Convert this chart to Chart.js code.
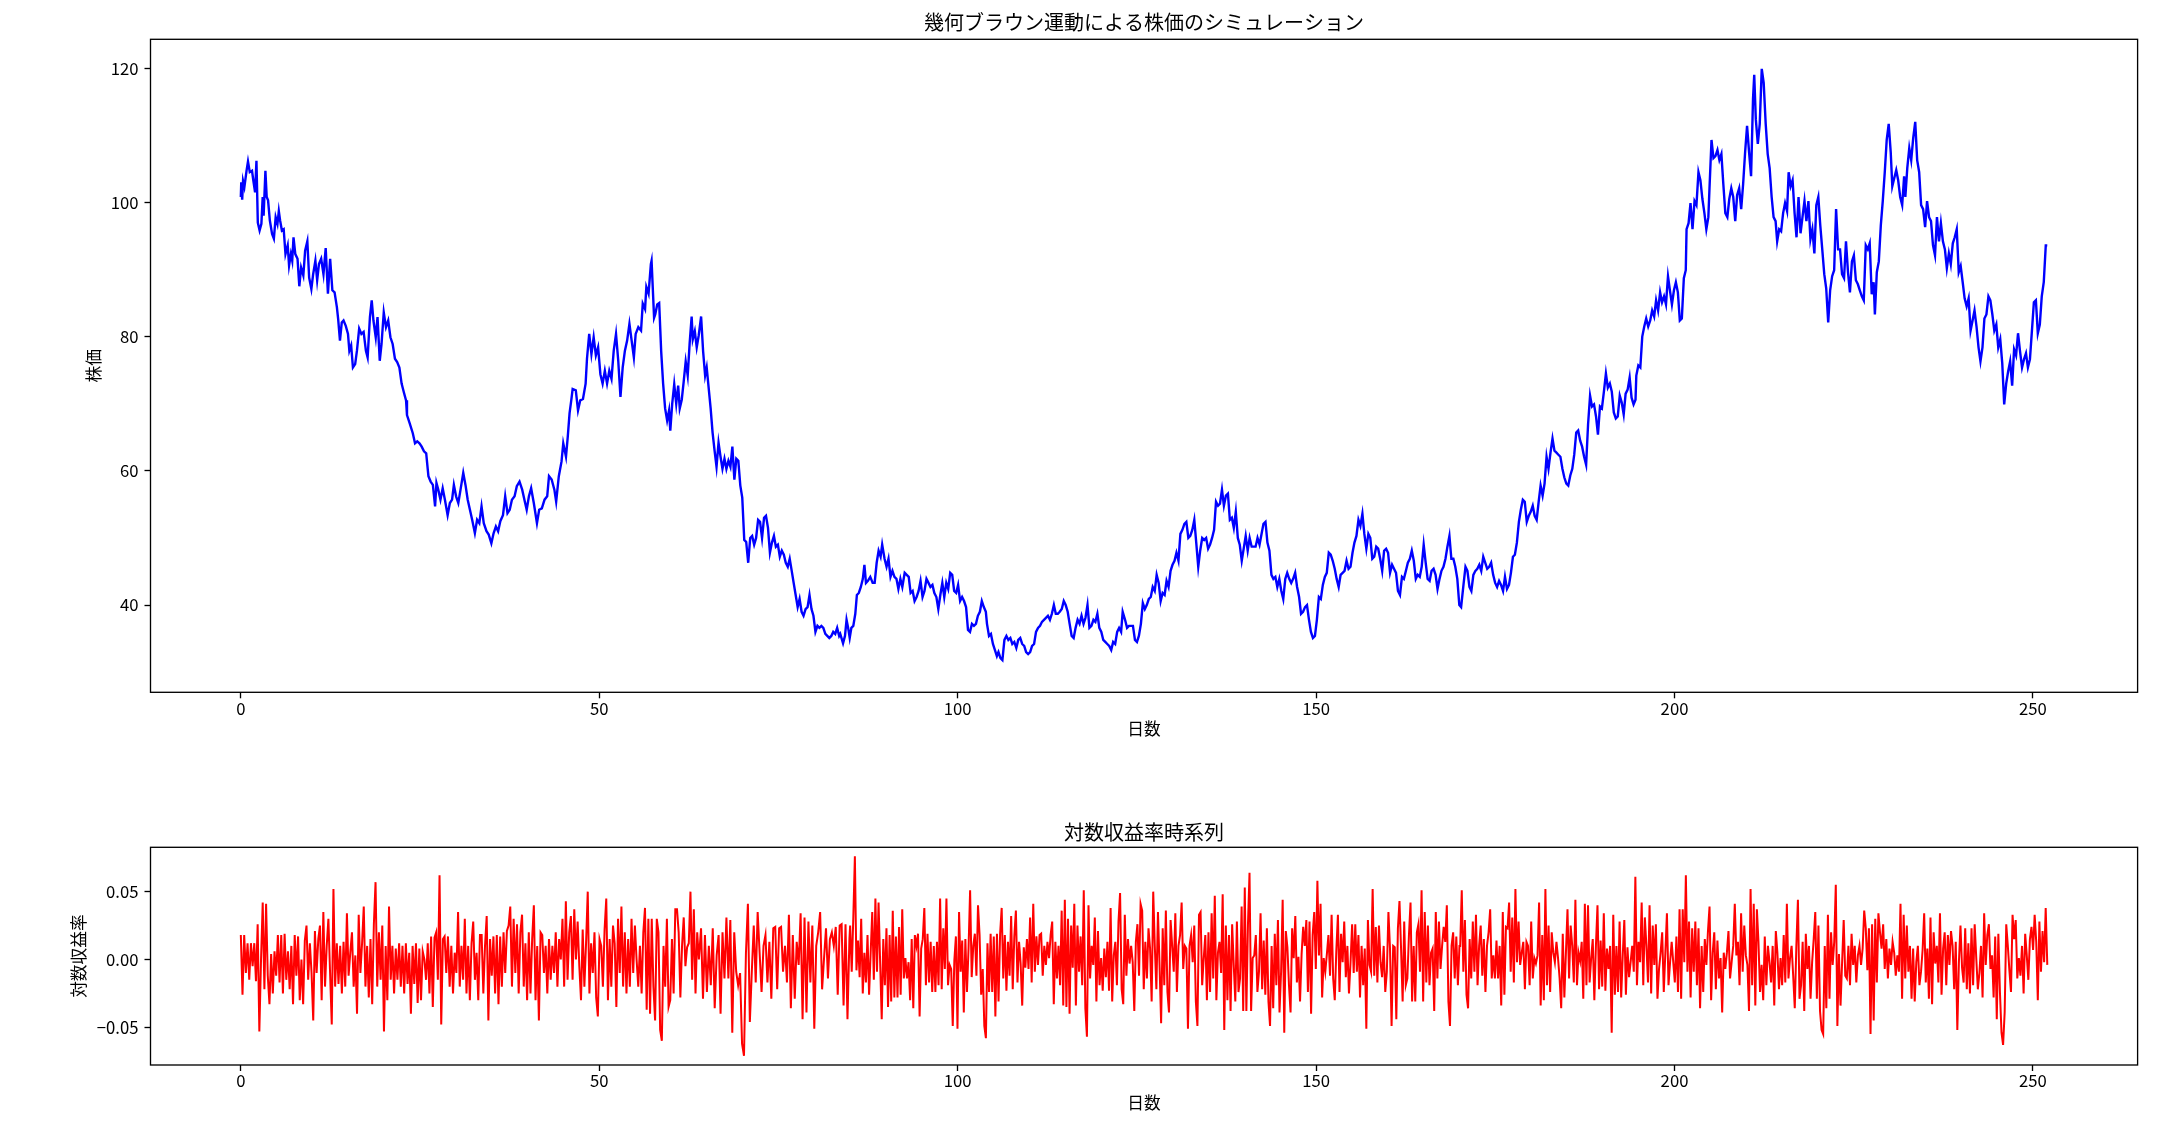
<!DOCTYPE html>
<html>
<head>
<meta charset="utf-8">
<script src="https://cdn.jsdelivr.net/npm/chart.js@4.4.0/dist/chart.umd.min.js"></script>
<style>
  body { margin: 0; background: #fff; }
  #wrap { position: relative; width: 2170px; height: 1131px; }
  canvas { position: absolute; left: 0; }
</style>
</head>
<body>
<div id="wrap">
  <canvas id="priceChart" width="2170" height="760" style="top:0"></canvas>
  <canvas id="returnChart" width="2170" height="341" style="top:790px"></canvas>
</div>
<script>
// 株価パス（日数, 株価）
const priceDays = [
  0,0.06,0.19,0.31,0.5,0.81,1,1.25,1.56,1.74,
  1.99,2.18,2.37,2.62,2.87,3.05,3.18,3.43,3.61,3.8,
  4.05,4.36,4.61,4.86,5.11,5.3,5.48,5.73,5.98,6.23,
  6.54,6.73,6.98,7.17,7.35,7.6,7.91,8.16,8.41,8.72,
  8.97,9.28,9.53,9.84,10.09,10.4,10.65,10.9,11.21,11.53,
  11.84,12.15,12.46,12.77,13.08,13.4,13.58,13.83,14.08,14.33,
  14.64,14.95,15.14,15.39,15.64,15.95,16.2,16.51,16.82,17.13,
  17.45,17.69,18.01,18.26,18.5,18.82,19.07,19.38,19.63,19.94,
  20.25,20.56,20.87,21.18,21.5,21.81,22.12,22.43,22.74,23.05,
  23.18,23.55,23.99,24.3,24.61,24.92,25.23,25.55,25.86,26.17,
  26.48,26.79,27.1,27.29,27.54,27.85,28.16,28.47,28.85,29.16,
  29.47,29.72,30.03,30.34,30.65,31.03,31.34,31.65,31.96,32.27,
  32.65,32.96,33.27,33.58,33.89,34.27,34.58,34.95,35.26,35.58,
  35.89,36.2,36.57,36.88,37.2,37.51,37.82,38.19,38.5,38.88,
  39.25,39.56,39.88,40.19,40.5,40.87,41.31,41.62,41.99,42.37,
  42.74,42.99,43.36,43.74,43.99,44.36,44.74,44.98,45.36,45.61,
  45.86,46.11,46.29,46.73,47.04,47.35,47.73,48.1,48.29,48.6,
  48.91,49.22,49.53,49.84,50.16,50.47,50.78,51.09,51.4,51.71,
  52.02,52.34,52.65,52.96,53.27,53.58,53.89,54.21,54.52,54.83,
  55.08,55.45,55.83,56.07,56.39,56.57,56.88,57.2,57.3,57.65,
  57.81,58.09,58.36,58.64,58.91,59.19,59.47,59.74,59.91,60.18,
  60.46,60.74,61.01,61.23,61.51,61.78,62.06,62.34,62.61,62.89,
  63.05,63.33,63.6,63.88,64.21,64.49,64.77,64.99,65.26,65.54,
  65.81,66.09,66.36,66.64,66.92,67.19,67.47,67.74,68.02,68.3,
  68.57,68.85,69.12,69.4,69.68,69.95,70.23,70.5,70.78,71.06,
  71.33,71.61,71.88,72.16,72.43,72.71,72.99,73.26,73.54,73.81,
  74.09,74.37,74.64,74.92,75.19,75.47,75.75,76.02,76.3,76.57,
  76.85,77.12,77.4,77.68,77.95,78.23,78.5,78.78,79.06,79.33,
  79.61,79.88,80.16,80.44,80.71,80.99,81.26,81.54,81.81,82.09,
  82.37,82.64,82.92,83.19,83.47,83.62,84.01,84.28,84.5,84.72,
  84.94,85.17,85.44,85.72,85.94,86.21,86.49,86.77,86.99,87.21,
  87.48,87.81,88.14,88.42,88.7,88.97,89.25,89.47,89.8,90.08,
  90.35,90.63,90.9,91.18,91.46,91.73,92.01,92.28,92.61,92.89,
  93.17,93.44,93.72,93.99,94.27,94.55,94.82,95.1,95.37,95.65,
  95.93,96.2,96.48,96.75,97.03,97.3,97.58,97.86,98.13,98.41,
  98.68,98.96,99.24,99.51,99.79,100.06,100.34,100.62,100.89,101.17,
  101.44,101.72,101.99,102.27,102.55,102.82,103.1,103.37,103.65,103.93,
  104.09,104.37,104.64,104.92,105.2,105.47,105.69,105.97,106.24,106.52,
  106.8,107.07,107.35,107.62,107.9,108.18,108.45,108.73,109,109.28,
  109.55,109.83,110.11,110.38,110.66,110.93,111.21,111.49,111.76,112.04,
  112.31,112.59,112.87,113.14,113.42,113.69,113.97,114.24,114.52,114.8,
  115.07,115.35,115.62,115.9,116.18,116.45,116.73,117,117.28,117.56,
  117.83,118.11,118.38,118.66,118.94,119.21,119.49,119.76,120.04,120.31,
  120.59,120.87,121.14,121.42,121.69,121.97,122.25,122.52,122.8,123.02,
  123.35,123.63,123.9,124.18,124.45,124.73,125.01,125.28,125.56,125.83,
  126.11,126.38,126.66,126.94,127.21,127.49,127.76,128.04,128.32,128.59,
  128.87,129.14,129.42,129.7,129.97,130.25,130.52,130.8,131.07,131.35,
  131.63,131.9,132.18,132.45,132.73,133.01,133.28,133.56,133.83,134.11,
  134.39,134.66,134.94,135.21,135.49,135.77,136.04,136.32,136.59,136.87,
  137.14,137.42,137.7,137.97,138.25,138.52,138.8,139.08,139.35,139.63,
  139.9,140.18,140.46,140.73,141.01,141.28,141.56,141.83,142.11,142.39,
  142.66,142.94,143.21,143.49,143.77,144.04,144.32,144.59,144.87,145.15,
  145.42,145.7,145.97,146.25,146.53,146.8,147.08,147.35,147.63,147.9,
  148.18,148.46,148.73,149.01,149.28,149.56,149.84,150.11,150.39,150.66,
  150.94,151.22,151.49,151.77,152.04,152.32,152.6,152.87,153.15,153.42,
  153.7,153.97,154.25,154.53,154.8,155.08,155.35,155.63,155.91,156.18,
  156.46,156.73,157.01,157.29,157.56,157.84,158.11,158.39,158.66,158.94,
  159.22,159.49,159.77,160.04,160.32,160.6,160.87,161.15,161.42,161.7,
  161.98,162.25,162.53,162.8,163.08,163.35,163.63,163.91,164.18,164.46,
  164.73,165.01,165.29,165.56,165.84,166.11,166.39,166.67,166.94,167.22,
  167.49,167.77,168.05,168.32,168.6,168.87,169.15,169.42,169.7,169.98,
  170.23,170.56,170.84,171.11,171.39,171.66,171.94,172.22,172.49,172.77,
  173.04,173.32,173.6,173.87,174.15,174.42,174.7,174.98,175.25,175.53,
  175.8,176.08,176.35,176.63,176.91,177.18,177.46,177.73,178.01,178.29,
  178.56,178.84,179.11,179.39,179.67,179.94,180.22,180.49,180.77,181.05,
  181.32,181.6,181.87,182.15,182.42,182.7,182.98,183.25,183.53,183.8,
  184.08,184.36,184.63,184.91,185.18,185.46,185.74,186.01,186.29,186.56,
  186.84,187.11,187.39,187.67,187.94,188.22,188.49,188.77,189.05,189.32,
  189.6,189.87,190.15,190.43,190.7,190.98,191.25,191.53,191.81,192.08,
  192.36,192.63,192.91,193.18,193.46,193.74,194.01,194.29,194.56,194.67,
  194.95,195.23,195.5,195.78,196.05,196.33,196.61,196.88,197.16,197.43,
  197.71,197.99,198.26,198.54,198.81,199.09,199.36,199.64,199.92,200.19,
  200.47,200.74,201.02,201.3,201.57,201.68,201.96,202.23,202.51,202.79,
  203.06,203.34,203.61,203.89,204.17,204.44,204.72,204.88,205.16,205.43,
  205.71,205.99,206.26,206.54,206.81,207.09,207.37,207.64,207.92,208.19,
  208.47,208.74,209.02,209.3,209.57,209.85,210.12,210.4,210.68,210.95,
  211.12,211.34,211.62,211.89,212.17,212.44,212.72,213,213.27,213.55,
  213.82,214.1,214.32,214.6,214.87,215.15,215.42,215.7,215.92,216.2,
  216.47,216.75,217.02,217.3,217.58,217.85,218.13,218.4,218.68,218.96,
  219.23,219.51,219.78,220.06,220.33,220.61,220.89,221.16,221.44,221.71,
  221.99,222.27,222.54,222.82,223.09,223.37,223.65,223.92,224.2,224.47,
  224.75,225.02,225.3,225.58,225.85,226.13,226.4,226.68,226.96,227.23,
  227.51,227.78,227.95,228.22,228.5,228.78,229.05,229.33,229.6,229.88,
  230.16,230.38,230.65,230.93,231.2,231.48,231.76,232.03,232.2,232.47,
  232.75,233.02,233.3,233.58,233.85,234.13,234.4,234.68,234.96,235.23,
  235.51,235.78,236.06,236.34,236.61,236.89,237.16,237.44,237.72,237.99,
  238.27,238.54,238.82,239.09,239.37,239.65,239.92,240.2,240.47,240.75,
  241.03,241.3,241.58,241.85,242.13,242.41,242.68,242.96,243.23,243.51,
  243.79,244.06,244.34,244.61,244.89,245.16,245.44,245.72,245.99,246.27,
  246.54,246.82,247.1,247.37,247.65,247.92,248.2,248.48,248.75,249.03,
  249.3,249.58,249.86,250.13,250.41,250.68,250.96,251.23,251.51,251.79,
  252
];
const prices = [
  100.8,103,100.4,103.2,102.3,104.8,106.1,104.5,104.7,103.3,
  101.5,106.2,97,95.8,96.8,100.8,98,104.7,100.8,100.3,
  97.3,95.3,94.6,97.8,96.8,98.7,97.3,95.8,96,92.3,
  93.6,90.6,92.3,91.3,94.8,92.3,91.6,87.5,90.3,89.1,
  92.8,94.2,88.8,87.1,89.3,91.3,88.4,90.8,91.6,89.3,
  93.2,86.4,91.6,86.9,86.6,84.4,82.6,79.4,82.1,82.4,
  81.6,80.4,77.9,78.7,75.4,75.9,77.9,81.2,80.4,80.7,
  77.9,76.9,82.9,85.4,82.4,79.9,82.9,76.4,78.9,83.6,
  81.4,82.4,79.9,78.9,76.7,76.2,75.4,73,71.7,70.5,
  68.3,67.1,65.6,64.1,64.4,64.1,63.6,62.9,62.6,59.2,
  58.4,57.9,54.7,58.2,57.2,55.7,57.4,55.7,53.4,55.2,
  55.7,57.9,56.2,55.2,57.2,59.7,57.9,55.7,54.2,52.7,
  50.7,52.7,52.2,54.7,52.2,51,50.5,49.2,50.7,51.7,
  51,52.5,53.4,56.2,53.7,54.2,55.7,56.2,57.7,58.4,
  57.2,55.7,54.2,56.2,57.4,55.2,52.2,54.2,54.4,55.7,
  56.2,59.2,58.7,57.2,55.4,59.2,61.4,64.1,62.1,65.1,
  68.6,70.6,72.2,72,69,70.5,70.7,73,76.7,80.4,
  77.4,79.9,77.2,78.4,74.4,73,74.9,73,74.9,73.7,
  77.9,80.4,76.4,71,75.4,77.9,79.4,81.9,79.4,76.9,
  80.4,81.4,80.9,84.9,84.1,87.4,86.4,90.8,91.3,82.8,
  83.3,84.8,85,77.8,73,69.3,67.5,69,66,70,
  72.9,70,72.7,69.3,70.6,73.3,76.3,74.2,79,83,
  79.6,80.8,78.4,80.2,83,77.8,74.2,75.4,72.4,69.3,
  65.7,63,60.6,64.2,62.1,60.3,61.8,60.3,61.5,60.6,
  63.6,58.7,61.8,61.5,57.8,56,49.7,49.4,46.3,50,
  50.3,49,50,52.7,52.4,50,53,53.3,51.5,47.8,
  49.3,50.3,48.7,49,47.2,48.1,47.5,46.3,45.7,46.9,
  45.1,43.3,41.5,39.7,40.9,39,38.4,39.4,39.7,41.5,
  39.4,38.4,36,36.9,36.6,36.9,36.6,35.7,35.4,35.1,
  35.4,36,35.7,36.6,35.4,35.7,34.3,35.4,37.8,36.6,
  35.1,36.6,36.9,38.7,41.5,41.8,42.7,43.9,46,43.3,
  43.6,44.2,43.3,43.3,46.3,48.1,47.2,49,46.9,45.7,
  46.9,44.2,45.1,44.2,43.9,42.4,43.9,42.7,44.8,44.5,
  44.2,41.8,42.1,40.6,41.2,42.1,43.6,41.2,42.1,43.9,
  43.3,42.7,43,41.8,41.2,39.4,41.5,43.3,41.2,43.3,
  42.4,44.8,44.5,42.1,41.8,43,40.6,41.2,40.6,39.7,
  36.3,36,37.2,36.9,37.2,38.4,39,40.6,39.7,39,
  37.2,35.4,35.7,34.2,33.3,32.4,33,32.1,31.8,34.8,
  35.4,34.8,35.1,34.2,34.5,33.6,34.8,35.1,34.2,33.9,
  33,32.7,33,33.9,34.2,36,36.6,36.9,37.5,37.8,
  38.1,38.4,37.8,38.7,40,38.7,38.7,39,39.4,40.6,
  40,39,37.2,35.4,35.1,36.6,37.8,37.2,38.4,37.2,
  38.1,40,36.6,36.9,37.8,37.5,38.7,36.6,36,34.8,
  34.5,34.2,33.9,33.3,34.5,34.2,36,36.6,36,39,
  37.8,36.6,36.9,36.9,36.9,34.8,34.5,35.4,37.2,40.3,
  39.4,40,40.9,41.2,42.7,42.1,44.5,43.3,40.6,41.8,
  41.5,43.6,42.7,45.1,46,46.6,47.8,46.6,50.6,51.2,
  52.1,52.4,50,50.3,51.2,52.7,49.3,45.7,48.1,50,
  49.7,50,48.4,49,50,51.2,55.4,54.8,55.1,57.2,
  54.8,56.3,56.6,52.7,53,51.5,53.9,50,49,46.6,
  48.4,50.3,48.1,50,48.7,48.7,48.7,50,49,50.6,
  52.1,52.4,49.3,48.1,44.5,43.9,44.2,42.7,43.9,42.1,
  40.9,43.9,44.8,43.9,43.3,43.9,44.8,42.7,41.2,38.7,
  39,39.7,40,37.8,36,35.1,35.4,37.8,41.2,40.9,
  43,44.2,44.8,47.8,47.5,46.6,45.4,43.9,42.7,44.5,
  44.8,45.1,46.6,45.4,45.7,47.8,49.3,50.3,52.7,51.8,
  53.6,50.6,48.4,50.6,50,46.9,47.2,48.7,48.4,46.9,
  45.1,48.1,48.4,47.8,44.8,46,45.4,44.8,42.1,41.5,
  44.2,43.9,45.1,46.3,46.9,48.1,46.6,43.9,44.5,44.2,
  45.7,49,46.3,43.9,43.6,45.1,45.4,44.5,42.4,43.9,
  45.1,45.7,46.9,48.7,50.3,46.9,46.9,45.7,43.9,40,
  39.7,43,45.7,45.1,42.7,42.1,44.5,45.1,45.4,46,
  45.1,47.2,46.3,45.4,45.7,46.3,44.5,43.3,42.7,43.6,
  43,42.1,44.2,42.4,43,44.8,47.2,47.5,49.3,52.4,
  54.2,55.7,55.4,52.4,53.3,53.9,54.8,53.3,52.7,55.4,
  57.8,56.3,58.1,62.1,60.3,62.7,64.8,63,62.7,62.4,
  62.1,60.3,59,58.1,57.8,59.3,60.3,62.4,65.7,66,
  64.5,63.6,62.1,60.9,66.9,71.2,69.6,69.9,68.1,65.4,
  69.6,69.3,71.8,74.5,72.4,73,71.8,68.7,67.8,68.1,
  71.2,70.2,68.4,71.5,72.1,73.9,70.9,69.9,70.6,74.2,
  75.7,75.4,80,81.5,82.7,81.5,82.4,83.9,83,85.4,
  83.9,86.6,85.1,86,84.8,89,86.9,84.8,86.9,88.1,
  86.6,82.4,82.7,88.7,89.9,96,96.9,99.9,96,100.2,
  99.6,104.5,103.3,100.5,98.4,96,97.8,102.1,109.3,106.6,
  106.9,107.8,106.3,107.2,102.7,98.4,97.8,100.5,102.1,100.8,
  97.2,101.1,102.1,99,102.7,107.5,111.4,107.5,103.9,115.4,
  119,112.4,108.7,111.7,119.9,117.8,111.7,107.2,105.1,100.8,
  97.8,97.2,94.2,96,95.7,98.4,99.9,98.7,104.5,102.4,
  103.3,98.4,94.8,100.8,95.4,97.8,100.2,97.2,100.2,94.5,
  96,92.4,99.6,100.8,96.6,93,89.3,87.2,82.1,86.9,
  89,89.9,99,93,93,89.3,88.7,94.2,89.6,86.6,
  91.2,92.1,88.4,87.8,86.9,86,85.4,93.6,93,93.9,
  86.3,88.1,83.3,89.6,91.2,96.6,100.2,104.5,109.3,111.7,
  107.5,102.4,103.6,104.8,103.3,100.8,99.6,103.9,100.8,105.1,
  108.1,106.3,109.6,112,106.3,104.5,99.6,99,96.3,100.2,
  97.8,97.2,93.6,92.1,97.8,94.2,96.9,94.2,93,90.2,
  92.4,90.8,93.9,94.8,96,89.6,90.5,88.1,85.7,84.5,
  85.7,80.9,82.4,83.9,81.5,78.4,76.3,78.4,82.7,83.3,
  86,85.4,83.3,80.9,81.8,78.4,79.6,76,69.9,73,
  74.8,76.3,72.7,78.1,77.2,80.5,77.8,75.4,76.6,77.5,
  75.4,76.6,80.9,85.1,85.4,80.5,81.8,86,88.1,93.6,
  93.6
];

// 対数収益率（区間ごとに読み取り、区間内は等間隔）
const returnSpans = [[0, 63.9], [64.2, 84.9], [85.0, 170.0], [170.1, 252.0]];
const returnsA = [
  0.018,-0.026,0.018,-0.010,0.012,-0.015,0.012,-0.005,0.012,-0.016,
  0.026,-0.053,0.000,0.042,-0.022,0.041,-0.012,-0.033,0.004,-0.025,
  0.006,-0.012,0.018,-0.017,0.018,-0.025,0.019,-0.015,0.006,-0.022,
  0.010,-0.033,0.018,-0.012,0.017,-0.030,0.000,-0.033,0.014,0.025,
  -0.015,0.012,-0.010,-0.045,0.021,-0.010,0.015,0.025,-0.030,0.035,
  -0.020,0.010,0.030,-0.010,-0.048,0.052,-0.020,0.012,-0.018,0.010,
  -0.025,0.013,-0.020,0.034,-0.012,0.005,0.020,-0.020,0.003,-0.040,
  0.033,-0.010,0.012,0.039,-0.020,0.010,-0.028,0.015,-0.033,0.026,
  0.057,-0.020,0.020,-0.015,0.025,-0.053,0.010,-0.030,0.039,-0.015,
  0.010,-0.025,0.008,-0.015,0.012,-0.020,0.010,-0.025,0.012,-0.018,
  0.005,-0.040,0.010,-0.018,0.012,-0.032,0.008,-0.030,0.006,0.000,
  -0.015,0.012,-0.025,0.017,-0.035,0.016,0.020,-0.015,0.062,-0.048,
  0.015,0.017,-0.010,0.017,-0.020,0.010,-0.025,0.005,-0.010,0.035,
  -0.020,0.010,-0.015,0.030,-0.025,0.010,-0.030,0.012,0.028,-0.015,
  0.005,-0.030,0.018,0.018,-0.025,0.010,0.032,-0.045,0.015,-0.012,
  0.017,-0.025,0.018,-0.033,0.017,-0.020,0.020,-0.010,0.021,0.025,
  0.039,-0.020,0.030,-0.010,0.026,-0.025,0.020,0.033,-0.020,0.012,
  -0.030,0.020,-0.025,0.015,0.040,-0.030,0.010,-0.045,0.020,0.018,
  -0.010,0.010,-0.025,0.015,-0.015,0.010,-0.010,0.020,-0.020,0.015,
  0.000,0.030,-0.020,0.043,-0.015,0.020,0.032,-0.015,0.037,0.000,
  0.028,-0.005,-0.030,0.022,-0.020,0.012,0.050,-0.025,0.012,-0.010,
  0.020,-0.028,-0.042,0.015,0.010,-0.020,0.022,0.045,-0.030,0.015,
  -0.020,0.025,0.012,-0.035,0.030,-0.010,0.039,-0.020,0.020,-0.025,
  0.015,-0.020,0.030,-0.010,0.025,0.000,-0.020,0.010,-0.025,0.020,
  0.038,-0.037,0.030,-0.040,0.030,-0.020,-0.045,0.030,0.020,-0.052,
  -0.060,0.010,-0.020,0.030,-0.035,-0.030,0.015,-0.025,0.037,0.037,
  0.020,-0.028,0.010,0.031,-0.005,0.009,0.012,0.050,-0.015,0.037,
  -0.025,0.020,0.000
];
const returnsB = [
  0.023,-0.029,0.018,-0.024,0.010,-0.019,0.023,-0.036,0.003,0.018,
  -0.040,0.020,-0.014,0.031,-0.014,0.029,-0.054,0.020,-0.009,-0.019,
  -0.010,-0.062,-0.071,0.005,0.041,-0.046,-0.009,0.025,-0.017,0.035,
  0.005,-0.024,0.010,0.018,-0.017,0.013,-0.029,0.023,0.024,-0.022,
  0.023,0.024,-0.009,0.010,-0.017,0.033,-0.036,0.018,-0.029,0.013,
  -0.004,0.034,-0.044,0.031,-0.039,0.028,-0.017,0.025,-0.051,0.010,
  0.020,0.035,-0.022,0.001,0.023,-0.014,0.015,0.020,0.010,0.024,
  -0.026,0.025,0.026,-0.034,0.026,-0.044,0.015
];
const returnsC = [
  0.025,-0.009,0.031,0.076,-0.008,0.014,-0.013,0.030,-0.025,0.005,
  -0.017,0.018,-0.026,0.005,0.035,-0.015,0.045,-0.009,0.042,-0.002,
  -0.044,0.015,-0.019,0.023,-0.035,0.018,-0.031,0.036,-0.028,0.017,
  -0.028,0.024,-0.026,0.037,-0.014,0.001,-0.014,-0.002,-0.030,0.015,
  -0.036,0.018,0.010,0.019,-0.042,0.008,0.015,0.038,-0.019,0.019,
  -0.017,0.013,-0.024,0.010,-0.024,0.013,-0.019,0.045,-0.022,0.023,
  -0.007,0.045,-0.019,-0.004,-0.007,-0.049,-0.001,0.017,-0.051,0.035,
  -0.009,0.014,-0.039,0.015,-0.024,0.008,0.051,-0.013,0.010,0.019,
  -0.012,0.040,0.018,-0.026,-0.007,-0.049,-0.058,0.012,-0.024,0.019,
  -0.024,0.017,-0.042,0.019,-0.031,0.019,0.038,-0.014,0.018,-0.023,
  0.013,-0.012,0.032,-0.022,0.017,0.036,-0.017,0.013,-0.003,-0.034,
  0.009,-0.006,0.015,-0.007,0.031,-0.017,0.041,-0.009,0.017,-0.004,
  0.018,0.019,-0.012,0.010,-0.004,0.013,0.001,0.018,0.028,-0.033,
  0.013,-0.014,0.010,-0.019,0.036,-0.034,0.044,-0.035,0.030,-0.040,
  0.025,-0.006,0.041,-0.034,0.025,-0.009,0.017,-0.019,0.051,-0.036,
  -0.057,0.040,-0.014,0.010,-0.004,0.031,-0.031,0.021,-0.019,0.001,
  -0.023,0.008,-0.013,0.013,-0.023,0.038,-0.031,0.003,0.013,-0.019,
  0.028,0.049,-0.022,-0.033,0.033,-0.012,0.015,-0.003,0.010,-0.002,
  -0.038,0.013,0.026,-0.012,0.041,0.036,-0.022,0.013,-0.014,0.023,
  0.008,-0.031,0.050,0.010,-0.022,0.035,-0.004,-0.047,0.023,-0.019,
  0.036,-0.024,-0.039,0.029,0.010,-0.009,0.034,-0.024,0.010,0.018,
  0.042,-0.007,0.010,0.008,-0.051,0.010,0.018,-0.002,0.025,-0.031,
  -0.049,0.033,0.035,-0.019,0.001,0.018,-0.030,0.020,-0.024,0.034,
  -0.014,0.047,-0.030,0.005,0.013,-0.010,0.048,-0.052,0.025,-0.030,
  0.018,-0.038,0.026,-0.004,-0.031,0.028,-0.024,-0.014,0.039,-0.038,
  0.053,-0.038,0.025,0.064,-0.038,0.001,0.003,0.018,-0.024,-0.009,
  0.034,-0.022,0.014,-0.026,0.023,-0.031,-0.049,0.010,-0.036,0.019,
  -0.019,0.029,-0.039,-0.009,0.044,-0.054,0.021,0.009,-0.019,-0.039,
  0.023,0.001,0.032,-0.017,0.002,-0.031,0.004,0.024,0.010,0.029,
  -0.024,0.028,-0.040,0.018,0.035,-0.007,0.058,0.003,0.041,-0.028,
  0.001,-0.009,0.004,0.018,-0.012,0.033,-0.014,-0.030,0.007,0.033,
  -0.024,0.019,-0.002,0.028,-0.013,0.010,-0.025,-0.002,0.026,-0.010,
  0.026,-0.009,0.018,-0.028,0.010,-0.019,0.008,-0.051,0.029,-0.004,
  -0.009,0.052,-0.012,0.024,-0.017,0.025,-0.002,-0.013,0.010,-0.024,
  -0.009,0.035,0.008,-0.049,0.010,0.009,-0.044,0.023,0.043,0.008,
  -0.031,0.028,-0.019,-0.014,0.018,0.042,-0.031,0.010,-0.031,0.020,
  0.026,-0.009,0.051,-0.031,0.035,-0.017,0.025,-0.019,0.005,0.008,
  -0.038,0.035,-0.014,0.028,-0.007,0.010,0.024,0.013,0.040,-0.031,
  -0.049,0.010,0.020,-0.014,0.017,-0.019,0.010
];
const returnsD = [
  0.010,0.051,-0.009,0.029,-0.026,-0.036,0.015,-0.014,0.028,-0.009,
  0.033,-0.019,0.010,0.025,-0.012,0.015,-0.024,0.010,0.020,0.037,
  -0.014,0.003,-0.014,0.014,-0.014,0.010,-0.034,0.035,-0.026,0.024,
  0.023,0.042,-0.009,0.031,-0.017,0.052,-0.002,0.028,-0.004,0.005,
  0.013,-0.022,0.013,0.010,-0.019,0.028,-0.014,0.001,-0.003,0.003,
  0.042,-0.034,0.018,-0.030,0.052,-0.019,0.025,-0.024,0.020,0.005,
  -0.002,0.013,0.001,-0.014,-0.036,0.019,-0.028,0.005,0.037,-0.014,
  0.025,0.010,-0.017,0.044,-0.019,0.005,-0.001,0.013,-0.029,0.041,
  -0.019,0.040,-0.017,0.001,0.015,-0.030,0.010,0.040,-0.022,0.014,
  -0.020,0.034,-0.023,0.008,-0.007,0.010,-0.054,0.033,-0.026,0.010,
  -0.024,0.028,-0.028,0.003,0.029,-0.026,0.009,-0.013,-0.002,0.010,
  -0.009,0.061,-0.019,0.013,-0.002,0.042,-0.019,0.031,0.010,-0.017,
  0.040,-0.025,0.025,-0.004,0.026,-0.029,-0.007,0.005,0.020,-0.024,
  0.005,0.034,-0.019,-0.002,0.013,-0.002,-0.017,0.017,-0.024,0.037,
  -0.029,0.037,-0.002,0.062,-0.009,0.028,-0.028,0.023,-0.009,0.028,
  -0.019,0.023,-0.036,0.010,-0.024,0.015,-0.004,0.021,0.039,-0.030,
  0.005,0.020,-0.022,0.014,-0.014,0.001,-0.039,0.005,-0.007,0.005,
  0.021,-0.014,-0.002,0.010,0.041,0.003,0.013,-0.019,0.034,-0.009,
  0.025,0.003,-0.004,-0.038,0.052,-0.019,0.041,-0.034,0.037,0.013,
  -0.024,-0.004,-0.030,0.017,-0.019,0.010,-0.002,-0.017,0.010,-0.034,
  0.021,0.005,-0.022,0.001,-0.019,0.018,-0.017,0.041,-0.014,0.001,
  0.010,-0.012,-0.036,0.010,0.044,-0.029,-0.019,0.013,-0.038,0.019,
  -0.007,0.010,-0.029,-0.002,0.015,0.035,-0.029,0.025,-0.038,-0.052,
  -0.055,0.010,-0.036,0.033,-0.029,0.020,-0.004,0.013,0.055,-0.049,
  0.004,-0.034,-0.002,0.029,-0.012,-0.014,0.010,-0.019,0.019,-0.004,
  0.010,-0.017,0.003,0.010,-0.004,0.008,0.036,0.023,-0.008,0.023,
  -0.055,0.026,-0.045,0.030,-0.017,0.034,0.020,0.008,0.026,-0.007,
  0.015,-0.014,0.008,-0.004,0.013,0.005,-0.012,0.003,-0.009,0.041,
  -0.029,0.033,-0.014,0.025,-0.009,0.010,-0.029,0.008,-0.031,-0.002,
  0.010,-0.019,-0.009,0.007,0.034,-0.017,0.008,-0.029,0.031,-0.033,
  0.020,-0.003,0.010,-0.017,0.034,-0.026,0.008,0.020,-0.019,0.018,
  -0.004,0.021,0.010,-0.022,0.013,-0.052,-0.002,0.025,-0.006,-0.017,
  0.023,-0.022,0.012,-0.025,0.023,-0.019,0.026,0.001,-0.022,-0.010,
  0.010,-0.028,0.034,-0.004,0.018,0.026,-0.007,0.003,-0.028,0.017,
  -0.044,0.019,-0.024,-0.054,-0.063,-0.039,0.026,0.010,-0.008,-0.024,
  0.033,0.015,0.029,-0.014,0.001,-0.012,0.010,-0.025,0.019,0.003,
  -0.015,0.015,0.024,0.007,0.033,0.013,-0.030,0.028,-0.009,0.021,
  -0.002,0.038,-0.004
];

const dayTicks = [0, 50, 100, 150, 200, 250];
const priceTicks = [40, 60, 80, 100, 120];
const returnTicks = [-0.05, 0, 0.05];

const FONT = "'Noto Sans CJK JP', 'Noto Sans', sans-serif";
Chart.defaults.font.family = FONT;
Chart.defaults.color = '#000';

// 枠線（上下左右のスパイン）
const frame = {
  id: 'frame',
  afterDraw(chart) {
    const { ctx, chartArea: a } = chart;
    ctx.save();
    ctx.strokeStyle = '#000';
    ctx.lineWidth = 1.33;
    ctx.strokeRect(a.left, a.top, a.right - a.left, a.bottom - a.top);
    ctx.restore();
  }
};

// タイトルはプロット領域の中央に置く（matplotlib と同じ）
const areaTitle = {
  id: 'areaTitle',
  afterDraw(chart, args, opts) {
    const { ctx, chartArea: a } = chart;
    ctx.save();
    ctx.font = '20px ' + FONT;
    ctx.fillStyle = '#000';
    ctx.textAlign = 'center';
    ctx.textBaseline = 'middle';
    ctx.fillText(opts.text, (a.left + a.right) / 2, a.top - opts.gap);
    ctx.restore();
  }
};

const tickGrid = { drawOnChartArea: false, tickLength: 6, tickWidth: 1.33, tickColor: '#000' };

function xAxis(height, titleBottom) {
  return {
    type: 'linear', min: -12.6, max: 264.6,
    afterBuildTicks: a => { a.ticks = dayTicks.map(v => ({ value: v })); },
    afterFit: a => { a.height = height; },
    border: { display: false },
    grid: tickGrid,
    ticks: { font: { size: 16.7 }, padding: 0, maxRotation: 0, autoSkip: false, color: '#000' },
    title: { display: true, text: '日数', color: '#000', font: { size: 16.7 }, padding: { top: 0, bottom: titleBottom } }
  };
}

function yAxis(min, max, ticks, label, titleTop, fmt) {
  return {
    type: 'linear', min: min, max: max,
    afterBuildTicks: a => { a.ticks = ticks.map(v => ({ value: v })); },
    afterFit: a => { a.width = 150.5; },
    border: { display: false },
    grid: tickGrid,
    ticks: { font: { size: 16.7 }, padding: 6, color: '#000', callback: fmt },
    title: { display: true, text: label, color: '#000', font: { size: 16.7 }, padding: { top: titleTop, bottom: 0 } }
  };
}

function baseOptions(title, top, gap, x, y) {
  return {
    responsive: false,
    devicePixelRatio: 1,
    animation: false,
    layout: { padding: { left: 0, right: 32.4, top: top, bottom: 0 } },
    plugins: {
      legend: { display: false },
      tooltip: { enabled: false },
      title: { display: false },
      areaTitle: { text: title, gap: gap }
    },
    scales: { x: x, y: y }
  };
}

new Chart(document.getElementById('priceChart'), {
  type: 'line',
  data: {
    datasets: [{
      data: priceDays.map((d, i) => ({ x: d, y: prices[i] })),
      borderColor: '#0000ff',
      borderWidth: 2.4,
      pointRadius: 0,
      tension: 0,
      fill: false
    }]
  },
  options: baseOptions('幾何ブラウン運動による株価のシミュレーション', 39.3, 17.3,
    xAxis(67.7, 21),
    yAxis(27.0, 124.3, priceTicks, '株価', 84, v => String(v))),
  plugins: [frame, areaTitle]
});

const returnSegments = [returnsA, returnsB, returnsC, returnsD];
const returnPoints = [];
returnSegments.forEach((seg, k) => {
  const [a, b] = returnSpans[k];
  seg.forEach((v, i) => returnPoints.push({ x: a + (b - a) * i / (seg.length - 1), y: v }));
});

new Chart(document.getElementById('returnChart'), {
  type: 'line',
  data: {
    datasets: [{
      data: returnPoints,
      borderColor: '#ff0000',
      borderWidth: 2.0,
      pointRadius: 0,
      tension: 0,
      fill: false
    }]
  },
  options: baseOptions('対数収益率時系列', 57.3, 15.3,
    xAxis(66, 18),
    yAxis(-0.0778, 0.0827, returnTicks, '対数収益率', 69,
      v => v === 0 ? '0.00' : (v < 0 ? '\u2212' : '') + Math.abs(v).toFixed(2))),
  plugins: [frame, areaTitle]
});
</script>
</body>
</html>
